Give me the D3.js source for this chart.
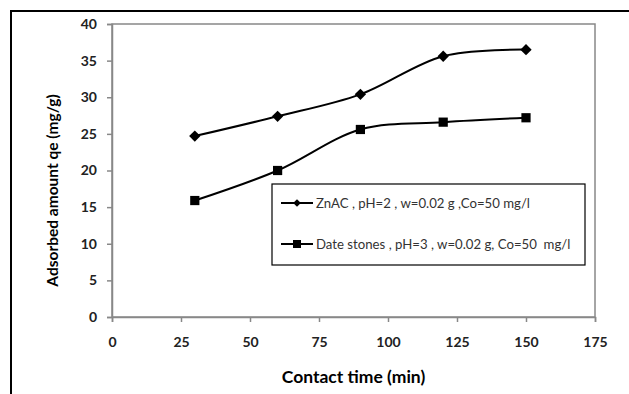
<!DOCTYPE html>
<html>
<head>
<meta charset="utf-8">
<script src="https://cdn.jsdelivr.net/npm/d3@7"></script>
<style>
  body { margin: 0; background: #fff; }
  svg { display: block; }
</style>
</head>
<body>
<div id="chart"></div>
<script>
// contact time (min)
const times = [30, 60, 90, 120, 150];
// adsorbed amount qe (mg/g)
const znac = [24.7, 27.4, 30.4, 35.6, 36.5];
const dateStones = [15.9, 20.0, 25.6, 26.6, 27.2];
const seriesNames = [
  "ZnAC , pH=2 , w=0.02 g ,Co=50 mg/l",
  "Date stones , pH=3 , w=0.02 g, Co=50  mg/l"
];
const xTicks = [0, 25, 50, 75, 100, 125, 150, 175];
const yTicks = [0, 5, 10, 15, 20, 25, 30, 35, 40];

const W = 629, H = 394;
const plot = { left: 112, top: 24, right: 595, bottom: 317 };

const svg = d3.select("#chart").append("svg")
  .attr("width", W).attr("height", H);

// outer frame (only left and top edges visible)
svg.append("path")
  .attr("d", `M11,${H} L11,11 L${W},11`)
  .attr("fill", "none").attr("stroke", "#000").attr("stroke-width", 2);

const x = d3.scaleLinear().domain([0, 175]).range([plot.left, plot.right]);
const y = d3.scaleLinear().domain([0, 40]).range([plot.bottom, plot.top]);

// plot area border
svg.append("rect")
  .attr("x", plot.left).attr("y", plot.top)
  .attr("width", plot.right - plot.left).attr("height", plot.bottom - plot.top)
  .attr("fill", "none").attr("stroke", "#888").attr("stroke-width", 1.5);

const font = "Lato, 'Open Sans', sans-serif";

// x axis
const xAxis = svg.append("g")
  .attr("transform", `translate(0,${plot.bottom})`)
  .call(d3.axisBottom(x).tickValues(xTicks).tickSize(5).tickPadding(15));
xAxis.select(".domain").attr("stroke", "#888").attr("stroke-width", 1.5);
xAxis.selectAll(".tick line").attr("stroke", "#888").attr("stroke-width", 1.5);
xAxis.selectAll("text")
  .attr("font-family", font).attr("font-size", 14).attr("font-weight", "bold").attr("fill", "#222");

// y axis
const yAxis = svg.append("g")
  .attr("transform", `translate(${plot.left},0)`)
  .call(d3.axisLeft(y).tickValues(yTicks).tickSize(5).tickPadding(10));
yAxis.select(".domain").attr("stroke", "#888").attr("stroke-width", 1.5);
yAxis.selectAll(".tick line").attr("stroke", "#888").attr("stroke-width", 1.5);
yAxis.selectAll("text")
  .attr("font-family", font).attr("font-size", 14).attr("font-weight", "bold").attr("fill", "#222");

// axis titles
svg.append("text")
  .attr("x", (plot.left + plot.right) / 2).attr("y", 383)
  .attr("text-anchor", "middle")
  .attr("font-family", font).attr("font-size", 17.5).attr("font-weight", "bold")
  .text("Contact time (min)");

svg.append("text")
  .attr("transform", `translate(58,${(plot.top + plot.bottom) / 2 + 20}) rotate(-90)`)
  .attr("text-anchor", "middle")
  .attr("font-family", font).attr("font-size", 15.5).attr("font-weight", "bold")
  .text("Adsorbed amount qe (mg/g)");

// series
const line = d3.line()
  .x(d => x(d[0])).y(d => y(d[1]))
  .curve(d3.curveCatmullRom.alpha(0.5));

// diamonds are squares turned 45 degrees
const series = [
  { values: znac, symbol: d3.symbolSquare, rot: 45, size: 64, legSize: 30 },
  { values: dateStones, symbol: d3.symbolSquare, rot: 0, size: 85, legSize: 64 }
];

series.forEach(s => {
  const pts = times.map((t, i) => [t, s.values[i]]);
  svg.append("path")
    .datum(pts)
    .attr("d", line)
    .attr("fill", "none").attr("stroke", "#000").attr("stroke-width", 2);
  svg.selectAll(null)
    .data(pts)
    .enter().append("path")
    .attr("transform", d => `translate(${x(d[0])},${y(d[1])}) rotate(${s.rot})`)
    .attr("d", d3.symbol().type(s.symbol).size(s.size))
    .attr("fill", "#000");
});

// legend
const leg = svg.append("g");
leg.append("rect")
  .attr("x", 272).attr("y", 184).attr("width", 313).attr("height", 81)
  .attr("fill", "#fff").attr("stroke", "#000").attr("stroke-width", 1.2);

const legY = [203, 244];
series.forEach((s, i) => {
  leg.append("line")
    .attr("x1", 281).attr("x2", 313)
    .attr("y1", legY[i]).attr("y2", legY[i])
    .attr("stroke", "#000").attr("stroke-width", 2);
  leg.append("path")
    .attr("transform", `translate(297,${legY[i]}) rotate(${s.rot})`)
    .attr("d", d3.symbol().type(s.symbol).size(s.legSize))
    .attr("fill", "#000");
  leg.append("text")
    .attr("x", 316).attr("y", legY[i]).attr("dy", "0.35em")
    .style("white-space", "pre")
    .attr("font-family", font).attr("font-size", 13.2).attr("fill", "#333")
    .text(seriesNames[i]);
});
</script>
</body>
</html>
